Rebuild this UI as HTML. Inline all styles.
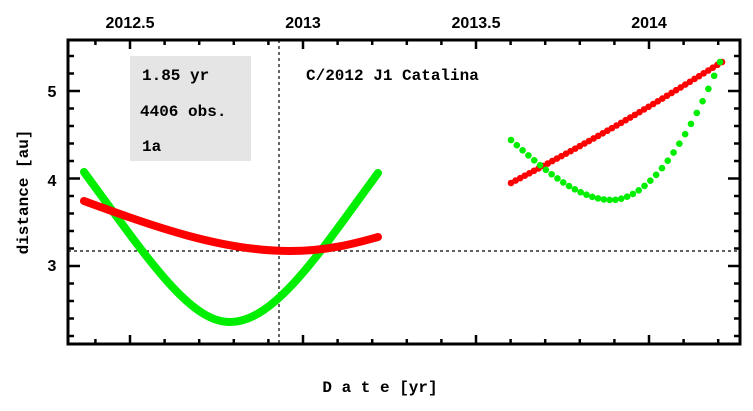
<!DOCTYPE html>
<html><head><style>
html,body{margin:0;padding:0;background:#fff}
svg{display:block;font-family:"Liberation Sans",sans-serif;font-weight:bold}
</style></head><body>
<svg id="s" width="753" height="411" viewBox="0 0 753 411">
<rect x="130" y="56" width="121" height="105" fill="#e5e5e5"/>
<g font-size="16" font-weight="bold" font-family="Liberation Mono, monospace">
<text x="142" y="80">1.85 yr</text>
<text x="140" y="116">4406 obs.</text>
<text x="142" y="151">1a</text>
<text x="306" y="80">C/2012 J1 Catalina</text>
</g>
<line x1="68" y1="251" x2="740" y2="251" stroke="#000" stroke-width="1.2" stroke-dasharray="3,3"/>
<line x1="279" y1="40" x2="279" y2="344" stroke="#000" stroke-width="1.2" stroke-dasharray="3,3"/>
<path d="M84,172 C150,262 190,322 230,322 C275,322 320,252 378,173" fill="none" stroke="#00ee00" stroke-width="8" stroke-linecap="round"/>
<path d="M84,201 C150,225 220,251 290,251 C330,251 360,242 378,237" fill="none" stroke="#ff0000" stroke-width="8" stroke-linecap="round"/>
<g id="dots"></g>
<rect x="68" y="40" width="672" height="304" fill="none" stroke="#000" stroke-width="3"/>
<g id="ticks" stroke="#000" stroke-width="2.5"></g>
<g font-size="16" text-anchor="middle">
<text x="130" y="28">2012.5</text><text x="303" y="28">2013</text><text x="476" y="28">2013.5</text><text x="649" y="28">2014</text>
<text x="52" y="97">5</text><text x="52" y="186">4</text><text x="52" y="271">3</text>
</g>
<text transform="translate(28,192) rotate(-90)" font-size="16" text-anchor="middle" font-family="Liberation Mono, monospace">distance [au]</text>
<text x="380" y="392" font-size="16" text-anchor="middle" font-family="Liberation Mono, monospace">D a t e [yr]</text>
</svg>
<script>
var NS="http://www.w3.org/2000/svg",t=document.getElementById("ticks"),d=document.getElementById("dots");
function L(a,b,c,e){var l=document.createElementNS(NS,"line");l.setAttribute("x1",a);l.setAttribute("y1",b);l.setAttribute("x2",c);l.setAttribute("y2",e);t.appendChild(l);}
for(var i=-4;i<=17;i++){var x=130+i*34.6;if(x<70||x>738)continue;var m=(i%5==0)?9:5;L(x,40,x,40+m);L(x,344,x,344-m);}
for(var j=-5;j<=13;j++){var y=266-j*17.5;if(y<42||y>342)continue;var m=(j%5==0)?12:6;L(68,y,68+m,y);L(740,y,740-m,y);}
function C(x,y,c){var e=document.createElementNS(NS,"circle");e.setAttribute("cx",x);e.setAttribute("cy",y);e.setAttribute("r",3.3);e.setAttribute("fill",c);d.appendChild(e);}
for(var k=0;k<=46;k++){var x=511+k*(722-511)/46;C(x,183-(x-511)*(121/211)+Math.sin((x-511)/211*Math.PI)*3,"#ff0000");}
for(var k=0;k<=36;k++){var u=k/36;var x=511+u*(720-511);var y;
 if(x<=612){var v=(x-511)/101;y=140+60*(1.5*v-0.5*v*v*v);} else {var v=(x-612)/108;y=200-138*Math.pow(v,1.9);}
 C(x,y,"#00ee00");}
</script>
</body></html>
